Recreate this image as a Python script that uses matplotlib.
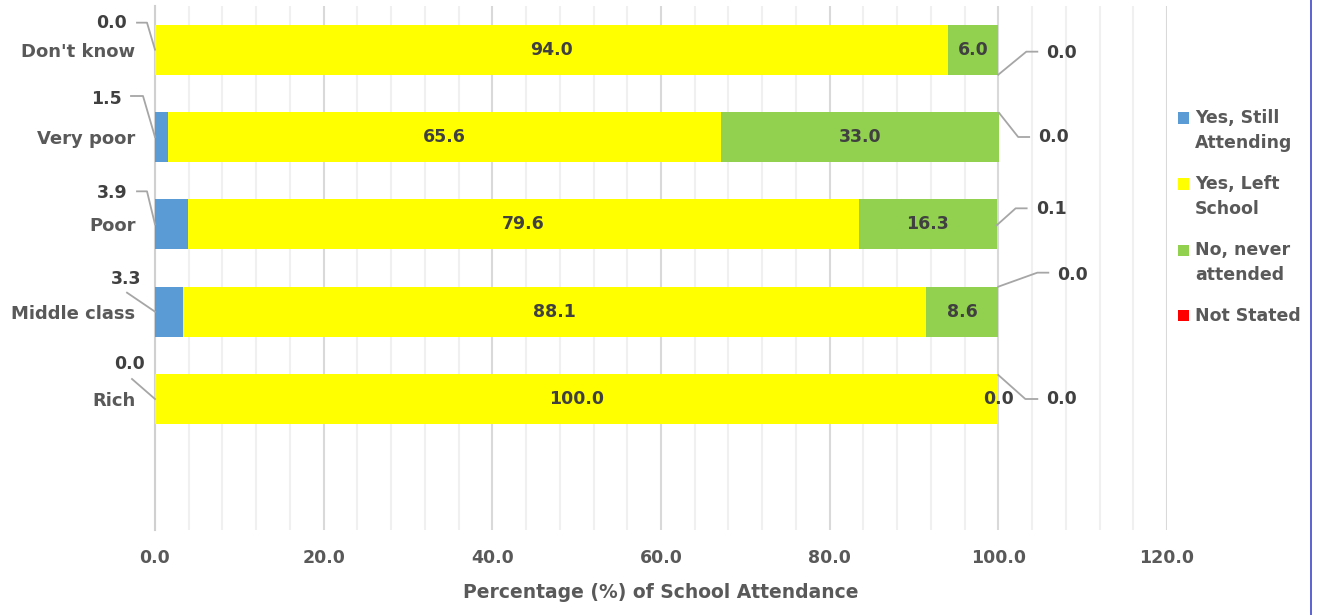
import matplotlib
matplotlib.use("Agg")
import matplotlib.pyplot as plt
from matplotlib.patches import Rectangle
from matplotlib.lines import Line2D
from matplotlib.ticker import MultipleLocator, FuncFormatter
import numpy as np

categories = ["Don't know", "Very poor", "Poor", "Middle class", "Rich"]
series_names = ["Yes, Still\nAttending", "Yes, Left\nSchool", "No, never\nattended", "Not Stated"]
still_attending = [0.0, 1.5, 3.9, 3.3, 0.0]
left_school = [94.0, 65.6, 79.6, 88.1, 100.0]
never_attended = [6.0, 33.0, 16.3, 8.6, 0.0]
not_stated = [0.0, 0.0, 0.1, 0.0, 0.0]
x_ticks = [0, 20, 40, 60, 80, 100, 120]

colors = ["#5B9BD5", "#FFFF00", "#92D050", "#FF0000"]
TXT = "#595959"
LBL = "#404040"
LEAD = "#A6A6A6"
FONT = "DejaVu Sans"

plt.rcParams["font.family"] = [FONT]
plt.rcParams["font.weight"] = "bold"
plt.rcParams["axes.labelweight"] = "bold"

W, H, DPI = 1317, 615, 100
fig = plt.figure(figsize=(W / DPI, H / DPI), dpi=DPI)
ax = fig.add_axes([155 / W, 1 - 530 / H, (1167 - 155) / W, (530 - 6) / H])

n_slots = len(categories) + 1  # one empty slot below the last bar
ypos = np.arange(len(categories))
bar_h = 0.573

series = [still_attending, left_school, never_attended, not_stated]
left = np.zeros(len(categories))
for vals, col in zip(series, colors):
    ax.barh(ypos, vals, left=left, height=bar_h, color=col, zorder=3)
    left = left + np.array(vals)

ax.set_xlim(0, 120)
ax.set_ylim(n_slots - 0.5, -0.5)
ax.set_xticks(x_ticks)
ax.xaxis.set_minor_locator(MultipleLocator(4))
ax.xaxis.set_major_formatter(FuncFormatter(lambda v, p: f"{v:.1f}"))
ax.grid(axis="x", which="major", color="#D9D9D9", linewidth=1.5, zorder=0)
ax.grid(axis="x", which="minor", color="#F0F0F0", linewidth=1.5, zorder=0)
ax.tick_params(axis="x", which="both", length=0, pad=14, labelsize=12.5, labelcolor=TXT)
ax.set_yticks(ypos)
ax.set_yticklabels(categories)
ax.tick_params(axis="y", length=0, pad=14, labelsize=13, labelcolor=TXT)
for s in ["top", "right", "bottom"]:
    ax.spines[s].set_visible(False)
ax.spines["left"].set_color("#D0D0D0")
ax.spines["left"].set_linewidth(1.5)
ax.set_xlabel("Percentage (%) of School Attendance", fontsize=13.5, color=TXT,
              fontweight="bold", labelpad=11)

# centred labels on the middle segments
for i in range(len(categories)):
    lx = still_attending[i] + left_school[i] / 2
    ax.text(lx, i, f"{left_school[i]:.1f}", ha="center", va="center",
            fontsize=12.5, color=LBL, zorder=5)
    gx = still_attending[i] + left_school[i] + never_attended[i] / 2
    ax.text(gx, i, f"{never_attended[i]:.1f}", ha="center", va="center",
            fontsize=12.5, color=LBL, zorder=5)

fig.canvas.draw()


def to_px(x, y):
    d = ax.transData.transform((x, y))
    return d[0], d[1]


def callout(x, y, label, text_off, path_off, ha):
    """Label at a pixel offset (dx, dy downwards) from a data anchor,
    with a leader line through the given offsets ending at the anchor."""
    bx, by = to_px(x, y)
    xs = [bx + dx for dx, dy in path_off]
    ys = [by - dy for dx, dy in path_off]
    fig.add_artist(Line2D(xs, ys, color=LEAD, linewidth=1.3,
                          transform=None, zorder=4))
    fig.text(bx + text_off[0], by - text_off[1], label, ha=ha, va="center",
             fontsize=12.5, color=LBL, transform=None)


# leader-line callouts for the "still attending" series (left side)
blue_text = [(-28, -27), (-33, -38), (-28, -31), (-14, -33), (-10, -35)]
blue_path = [
    [(-18, -27), (-8, -27), (0, 0)],
    [(-24, -41), (-12, -41), (0, 0)],
    [(-18, -33), (-8, -33), (0, 0)],
    [(-28, -19), (0, 0)],
    [(-23, -20), (0, 0)],
]
for i in range(len(categories)):
    callout(0, i, f"{still_attending[i]:.1f}", blue_text[i], blue_path[i], "right")

# leader-line callouts for the "not stated" series (right side)
red_text = [(48, 3), (39, 0), (39, -15), (59, -37), (48, 0)]
red_path = [
    [(0, 25), (28, 2), (39, 2)],
    [(0, -24), (19, 0), (30, 0)],
    [(0, 1), (19, -16), (30, -16)],
    [(0, -25), (39, -39), (50, -39)],
    [(0, -24), (27, 0), (39, 0)],
]
totals = np.array(still_attending) + np.array(left_school) + np.array(never_attended)
for i in range(len(categories)):
    callout(totals[i], i, f"{not_stated[i]:.1f}", red_text[i], red_path[i], "left")

# legend: colour swatch beside the first line of each (wrapped) entry
leg_x, leg_y0, leg_step, line_h, sw = 1178, 118, 66, 25, 11
for k, (name, col) in enumerate(zip(series_names, colors)):
    yc = leg_y0 + k * leg_step
    fig.add_artist(Rectangle((leg_x / W, 1 - (yc + sw / 2) / H), sw / W, sw / H,
                             facecolor=col, edgecolor="none",
                             transform=fig.transFigure))
    for j, line in enumerate(name.split("\n")):
        fig.text((leg_x + 17) / W, 1 - (yc + j * line_h) / H, line,
                 ha="left", va="center", fontsize=12.5, color=TXT)

# thin right-hand border of the chart frame
fig.add_artist(Line2D([1311 / W, 1311 / W], [0, 1], color="#3F48CC",
                      linewidth=1.2, transform=fig.transFigure))

fig.savefig("out.png", dpi=DPI)
